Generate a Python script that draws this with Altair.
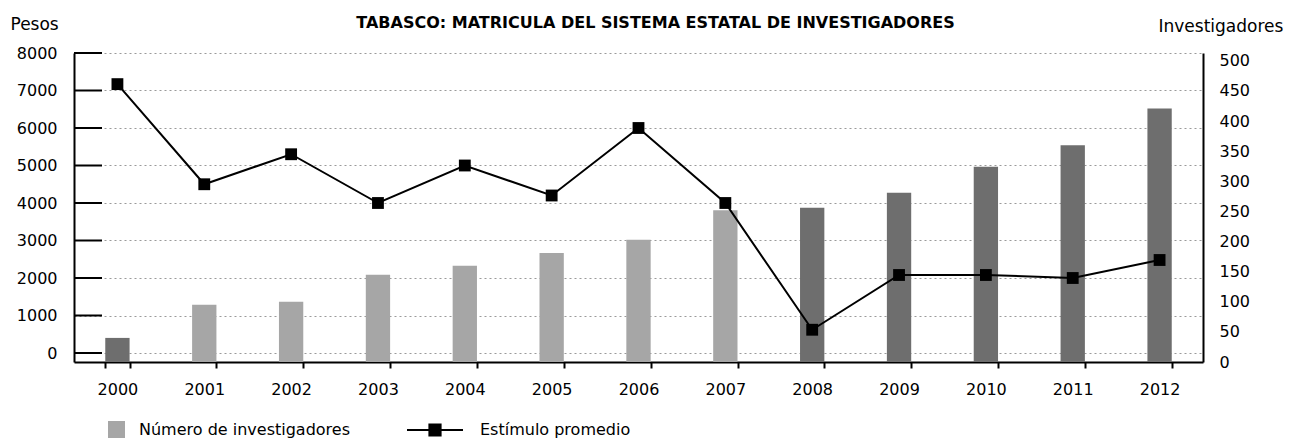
import altair as alt
import pandas as pd

years = ["2000", "2001", "2002", "2003", "2004", "2005", "2006",
         "2007", "2008", "2009", "2010", "2011", "2012"]
investigadores = [40, 95, 100, 145, 160, 181, 203, 252, 256, 281, 324, 360, 421]
estimulo = [7170, 4500, 5300, 4000, 5000, 4200, 6000, 4000, 620, 2080, 2080, 2000, 2480]
pesos_ticks = [0, 1000, 2000, 3000, 4000, 5000, 6000, 7000, 8000]
inv_ticks = [0, 50, 100, 150, 200, 250, 300, 350, 400, 450, 500]
serie_barras = "Número de investigadores"
serie_linea = "Estímulo promedio"
titulo = "TABASCO: MATRICULA DEL SISTEMA ESTATAL DE INVESTIGADORES"

df = pd.DataFrame({
    "year": years,
    "inv": investigadores,
    "est": estimulo,
    "s1": [serie_barras] * len(years),
    "s2": [serie_linea] * len(years),
})
ticks_df = pd.DataFrame({"v": pesos_ticks})

FONT = "DejaVu Sans"
FS = 16
left_scale = alt.Scale(domain=[-240, 8000], nice=False, zero=False)
right_scale = alt.Scale(domain=[0, 513], nice=False, zero=True)

x_enc = alt.X(
    "year:O", title=None,
    scale=alt.Scale(paddingInner=0.72, paddingOuter=0.36),
    axis=alt.Axis(labelAngle=0, tickBand="extent", domainColor="black", domainWidth=2,
                  tickColor="black", tickWidth=2, tickSize=6, labelPadding=13,
                  labelFontSize=FS, labelColor="black", labelFont=FONT),
)

base = alt.Chart(df)

bars = base.mark_bar().encode(
    x=x_enc,
    y=alt.Y("inv:Q", scale=right_scale,
            axis=alt.Axis(orient="right", values=inv_ticks, format="d", title="Investigadores",
                          titleAngle=0, titleAlign="left", titleBaseline="middle",
                          titleX=-45, titleY=-27, titleFontSize=17, titleFontWeight="normal",
                          titleColor="black", grid=False, domainColor="black", domainWidth=2,
                          ticks=False, labelPadding=16, labelFontSize=FS, labelColor="black")),
    fill=alt.condition(
        "datum.year == '2000' || datum.year >= '2008'",
        alt.value("#6e6e6e"),
        alt.Fill("s1:N", scale=alt.Scale(range=["#a6a6a6"]),
                 legend=alt.Legend(orient="none", legendX=34, legendY=368, title=None,
                                   symbolType="square", symbolSize=289,
                                   symbolFillColor="#c4c4c4", symbolStrokeWidth=0,
                                   labelFontSize=FS, labelColor="black", labelFont=FONT,
                                   labelLimit=400, labelOffset=14)),
    ),
)

line = base.mark_line(color="black", strokeWidth=2).encode(
    x=x_enc,
    y=alt.Y("est:Q", scale=left_scale,
            axis=alt.Axis(orient="left", values=pesos_ticks, format="d", title="Pesos",
                          titleAngle=0, titleAlign="left", titleBaseline="middle",
                          titleX=-64, titleY=-29, titleFontSize=17, titleFontWeight="normal",
                          titleColor="black", grid=True, gridColor="#9a9a9a",
                          gridDash=[2, 3], gridWidth=1, domainColor="black", domainWidth=2,
                          ticks=False, labelPadding=17, labelFontSize=FS, labelColor="black")),
    stroke=alt.Stroke("s2:N", scale=alt.Scale(range=["black"]),
                      legend=alt.Legend(orient="none", legendX=332, legendY=348, title=None,
                                        symbolType="M-1,0H1M-0.2,-0.2H0.2V0.2H-0.2Z",
                                        symbolSize=3136, symbolStrokeWidth=2,
                                        symbolFillColor="black", symbolStrokeColor="black",
                                        labelFontSize=FS, labelColor="black", labelFont=FONT,
                                        labelLimit=400, labelOffset=16)),
)

points = base.mark_square(size=140, color="black", opacity=1, filled=True).encode(
    x=x_enc,
    y=alt.Y("est:Q", scale=left_scale, axis=None),
)

stubs = alt.Chart(ticks_df).mark_rule(color="black", strokeWidth=2).encode(
    y=alt.Y("v:Q", scale=left_scale, axis=None),
    x=alt.value(0),
    x2=alt.value(28),
)

chart = alt.layer(bars, line, points, stubs).resolve_scale(
    y="independent"
).properties(
    width=1129,
    height=309,
    title=alt.TitleParams(titulo, anchor="middle", dx=17, offset=-16, fontSize=16,
                          fontWeight="bold", font=FONT, color="black"),
    autosize=alt.AutoSizeParams(type="none"),
    padding={"left": 66, "top": 45, "right": 83, "bottom": 78},
).configure(font=FONT).configure_view(strokeWidth=0)

chart.save("out.html", embed_options={"renderer": "svg", "actions": False})
